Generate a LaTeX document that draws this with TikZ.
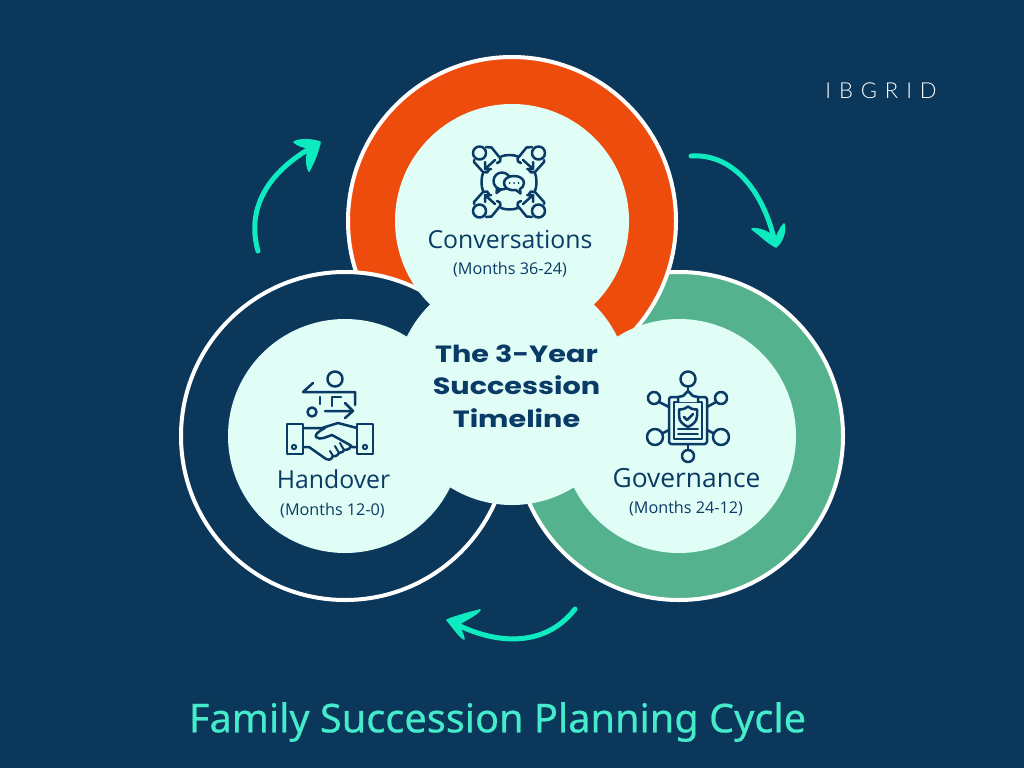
\documentclass[tikz,border=0pt]{standalone}
\usepackage{fontspec}
\setmainfont{Open Sans}
\newfontfamily\titlefont[FakeBold=0.5]{Noto Sans}
\newfontfamily\logofont[LetterSpace=36]{Lato Light}
\newfontfamily\centerfont[FakeStretch=1.22]{Poppins Bold}
\definecolor{bgnavy}{HTML}{0A375A}
\definecolor{ink}{HTML}{0A3A66}
\definecolor{fire}{HTML}{EE4C0C}
\definecolor{leaf}{HTML}{55B28E}
\definecolor{pale}{HTML}{E0FDF6}
\definecolor{mint}{HTML}{0FEBC0}
\definecolor{titlemint}{HTML}{46EBCB}
\tikzset{
  ringshape/.style={circle,draw=white,line width=4pt,minimum size=328pt,inner sep=0pt},
  coreshape/.style={circle,fill=pale,minimum size=234pt,inner sep=0pt},
  cyc/.style={draw=mint,line width=5pt,line cap=round,line join=round},
  cychead/.style={fill=mint,draw=mint,line width=1.6pt,line join=round},
  icon/.style={draw=ink,line width=2.5pt,line cap=round,line join=round},
  namelabel/.style={text=ink,font=\fontsize{24.8}{28}\selectfont},
  months/.style={text=ink,font=\fontsize{16.2}{19}\selectfont},
}
\begin{document}
\begin{tikzpicture}[x=1pt,y=-1pt]
\fill[bgnavy] (0,0) rectangle (1024,768);
\useasboundingbox (0,0) rectangle (1024,768);
% rings
\node[ringshape,fill=leaf] (ringR) at (679,436) {};
\node[ringshape,fill=fire] (ringT) at (512,221) {};
\node[ringshape,fill=bgnavy] (ringL) at (345,436) {};
\node[coreshape] (coreT) at (512,221) {};
\node[coreshape] (coreL) at (345,436) {};
\node[coreshape] (coreR) at (679,436) {};
\node[coreshape] (coreC) at (512,388) {};
% labels
\node[align=center,text=ink,font=\centerfont\fontsize{23.5}{32.5}\selectfont] (centre) at (516.5,386) {The 3-Year\\Succession\\Timeline};
\node[namelabel] (n1) at (510,240) {Conversations};
\node[months] (m1) at (510,270) {(Months 36-24)};
\node[namelabel] (n2) at (333.5,479) {Handover};
\node[months] (m2) at (332.5,511) {(Months 12-0)};
\node[namelabel,font=\fontsize{26.4}{30}\selectfont] (n3) at (686.5,478) {Governance};
\node[months] (m3) at (686,509) {(Months 24-12)};
\node[text=titlemint,font=\titlefont\fontsize{39.7}{44}\selectfont] (title) at (497.5,722) {Family Succession Planning Cycle};
\node[text=white,font=\logofont\fontsize{22}{24}\selectfont] (logo) at (881,91) {IBGRID};
% cycle arrows
\coordinate (a1s) at (258,251); \coordinate (a1e) at (318,144);
\draw[cyc] (a1s) .. controls (245,205) and (272,168) .. (a1e);
\fill[cychead] (320,142) .. controls (310,139) and (300,139) .. (294,142) .. controls (298,146) and (304,147) .. (309,148) .. controls (306,156) and (306,165) .. (309,171) .. controls (314,162) and (318,152) .. (320,142) -- cycle;
\coordinate (a2s) at (691,156); \coordinate (a2e) at (775,243);
\draw[cyc] (a2s) .. controls (735,153) and (765,195) .. (a2e);
\fill[cychead] (776,247) .. controls (782,242) and (786,232) .. (784,224) .. controls (780,228) and (778,234) .. (776,238) .. controls (768,232) and (760,228) .. (752,229) .. controls (760,235) and (768,243) .. (776,247) -- cycle;
\coordinate (a3s) at (575,609); \coordinate (a3e) at (452,622);
\draw[cyc] (a3s) .. controls (545,648) and (495,645) .. (a3e);
\fill[cychead] (447,620) .. controls (456,631) and (460,637) .. (464,639) .. controls (463,634) and (461,630) .. (458,625) .. controls (466,619) and (475,616) .. (480,610) .. controls (468,613) and (457,616) .. (447,620) -- cycle;
% icon: conversations
\begin{scope}[shift={(473,146)},x=1pt,y=-1pt]
 \foreach \sx/\sy/\ox/\oy in {1/1/0/0,-1/1/72/0,1/-1/0/72,-1/-1/72/72}{
  \begin{scope}[shift={(\ox,\oy)},xscale=\sx,yscale=\sy]
   \draw[icon] (6.5,7) circle (6.5);
   \draw[icon] (13,1) -- (18.5,1.5) -- (27.5,12.5) -- (27,15.5) -- (24,17) (22,14) -- (12,23) (12,16) -- (12,23) -- (18,23) (1,14) -- (1,16) -- (10,26) -- (14,26.5) -- (16,24);
  \end{scope}
 }
 \draw[icon] (28,10.5) .. controls (33,8.5) and (40,8.5) .. (45,10.5);
 \draw[icon] (28,62) .. controls (33,64) and (40,64) .. (45,62);
 \draw[icon] (10,27) .. controls (8,32) and (8,40) .. (10,45);
 \draw[icon] (62,27) .. controls (64,32) and (64,40) .. (62,45);
 \draw[icon] (29,35) circle (8.5);
 \draw[icon] (24,42) -- (23.5,47) -- (28,43.5);
 \draw[icon,fill=pale] (41,30) .. controls (47,30) and (51,33) .. (51,37) .. controls (51,40) and (49,42) .. (47,43) -- (47.5,47.5) -- (43,44) .. controls (36,45) and (31,42) .. (31,37) .. controls (31,33) and (35,30) .. (41,30) -- cycle;
 \fill[ink] (36.5,37) circle (1) (41,37) circle (1) (45.5,37) circle (1);
\end{scope}
% icon: handover
\begin{scope}[shift={(270,360)},x=1pt,y=-1pt]
 \draw[icon] (65,19) circle (7.5);
 \draw[icon] (33,32) -- (43,23) (33,32) -- (85,32) -- (85,45);
 \draw[icon] (50,37) -- (50,44);
 \draw[icon] (62,46) -- (62,37) -- (71,37);
 \draw[icon] (55,51) -- (82,51) (75,43) -- (83,51) -- (75,58);
 \draw[icon] (42,52) circle (4.5);
 \draw[icon] (17,64) rectangle (33,94) (87,64) rectangle (103,94);
 \fill[ink] (24,87) circle (3.2) (95,87) circle (3.2);
 \fill[pale] (24,87) circle (1.2) (95,87) circle (1.2);
 \draw[icon] (33,68) -- (52,68) -- (68,63) -- (87,68);
 \draw[icon] (55,68) .. controls (47,72) and (45,75) .. (46,77) .. controls (50,81) and (58,76) .. (62,75) -- (80,85) -- (82,87) -- (87,87);
 \draw[icon] (33,87) -- (39,87) -- (56,99) .. controls (61,101) and (62,98) .. (63,96) .. controls (67,97) and (68,94) .. (69,93) .. controls (72,93) and (74,91) .. (74,90) .. controls (78,90) and (82,88) .. (80,85);
 \draw[icon,line width=2pt] (60,91) -- (63,96) (65,86) -- (69,93) (70,83) -- (74,90);
\end{scope}
% icon: governance
\begin{scope}[shift={(630,360)},x=1pt,y=-1pt]
 \draw[icon] (58,19) circle (7.5);
 \draw[icon] (58,27) -- (58,34);
 \draw[icon] (24,38) circle (6);
 \draw[icon] (91,38) circle (6);
 \draw[icon] (25,77) circle (8);
 \draw[icon] (91,77) circle (8);
 \draw[icon] (58,96) circle (6);
 \draw[icon] (58,85) -- (58,90);
 \draw[icon] (29,42) -- (39,47) (86,42) -- (77,47) (33,73) -- (39,70) (83,73) -- (77,70);
 \draw[icon,rounded corners=2.5pt] (39,37) rectangle (77,84);
 \draw[icon] (44,42) rectangle (72,79);
 \draw[icon,fill=pale] (48,42) -- (48,37) -- (53,36) -- (58,31) -- (63,36) -- (68,37) -- (68,42);
 \draw[icon] (58,46.5) .. controls (54,49.5) and (52,49.5) .. (49,49.5) -- (49,56) .. controls (49,62) and (54,65) .. (58,67) .. controls (62,65) and (67,62) .. (67,56) -- (67,49.5) .. controls (64,49.5) and (62,49.5) .. (58,46.5);
 \draw[icon] (54,57) -- (57,60) -- (63,54);
 \draw[icon,line width=1.8pt] (48,69) -- (68,69) (48,74) -- (68,74);
\end{scope}
\end{tikzpicture}
\end{document}
